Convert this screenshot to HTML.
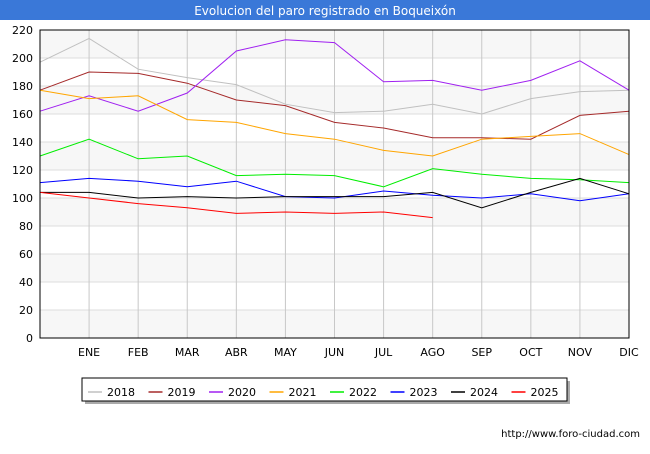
<!DOCTYPE html>
<html><head><meta charset="utf-8"><style>
body{margin:0;background:#fff;font-family:"DejaVu Sans",sans-serif}
</style></head><body>
<svg width="650" height="450" xmlns="http://www.w3.org/2000/svg" font-family="DejaVu Sans, sans-serif">
<rect x="0" y="0" width="650" height="450" fill="#fff"/>
<rect x="0" y="0" width="650" height="20" fill="#3a78d8"/>
<text x="325" y="15" text-anchor="middle" font-size="12" fill="#fff">Evolucion del paro registrado en Boqueixón</text>
<g id="grid"></g>
<g id="series"></g>
<rect x="40" y="30" width="589" height="308" fill="none" stroke="#000" stroke-width="1"/>
<g id="ticks" font-size="11" fill="#000"></g>
<g>
<rect x="85" y="381" width="485" height="23" fill="#aaa"/>
<rect x="82" y="378" width="485" height="23" fill="#fff" stroke="#000" stroke-width="1"/>
<g id="legend" font-size="11"></g>
</g>
<text x="640" y="437" text-anchor="end" font-size="10" fill="#000">http://www.foro-ciudad.com</text>
</svg>
<script>
const months=["","ENE","FEB","MAR","ABR","MAY","JUN","JUL","AGO","SEP","OCT","NOV","DIC"];
const yTicks=[0,20,40,60,80,100,120,140,160,180,200,220];
const seriesNames=["2018","2019","2020","2021","2022","2023","2024","2025"];
const seriesColors=["#c0c0c0","#a52a2a","#a020f0","#ffa500","#00ee00","#0000ff","#000000","#ff0000"];
const s2018=[197,214,192,186,181,167,161,162,167,160,171,176,177];
const s2019=[177,190,189,182,170,166,154,150,143,143,142,159,162];
const s2020=[162,173,162,175,205,213,211,183,184,177,184,198,177];
const s2021=[177,171,173,156,154,146,142,134,130,142,144,146,131];
const s2022=[130,142,128,130,116,117,116,108,121,117,114,113,111];
const s2023=[111,114,112,108,112,101,100,105,102,100,103,98,103];
const s2024=[104,104,100,101,100,101,101,101,104,93,104,114,103];
const s2025=[104,100,96,93,89,90,89,90,86];
const allSeries=[s2018,s2019,s2020,s2021,s2022,s2023,s2024,s2025];
const NS="http://www.w3.org/2000/svg";
const X=i=>40+i*589/12, Y=v=>338-v*308/220;
function mk(t,a,p){const e=document.createElementNS(NS,t);for(const k in a)e.setAttribute(k,a[k]);p.appendChild(e);return e;}
const grid=document.getElementById('grid'),ticks=document.getElementById('ticks'),ser=document.getElementById('series'),leg=document.getElementById('legend');
for(let i=0;i<yTicks.length-1;i++){ if(i%2===0){const r=mk('rect',{x:40,y:Y(yTicks[i+1]),width:589,height:Y(yTicks[i])-Y(yTicks[i+1]),fill:'#f7f7f7'},grid);

}}
yTicks.forEach(v=>{const l=mk('line',{x1:40,x2:629,y1:Y(v),y2:Y(v),stroke:'#ddd'},grid);


const t=mk('text',{x:33,y:Y(v)+4,'text-anchor':'end'},ticks);t.textContent=v;

});
months.forEach((m,i)=>{if(i>0){const l=mk('line',{x1:X(i),x2:X(i),y1:30,y2:338,stroke:'#c8c8c8'},grid);

}
const t=mk('text',{x:X(i),y:356,'text-anchor':'middle'},ticks);t.textContent=m;

});
allSeries.forEach((s,k)=>{const p=mk('polyline',{points:s.map((v,i)=>X(i)+','+Y(v)).join(' '),fill:'none',stroke:seriesColors[k],'stroke-width':1},ser);


const lx=88+k*60.5;
const ll=mk('line',{x1:lx,x2:lx+14,y1:392,y2:392,stroke:seriesColors[k],'stroke-width':1.5},leg);


const t=mk('text',{x:lx+19,y:396},leg);t.textContent=seriesNames[k];

});
</script>
</body></html>
